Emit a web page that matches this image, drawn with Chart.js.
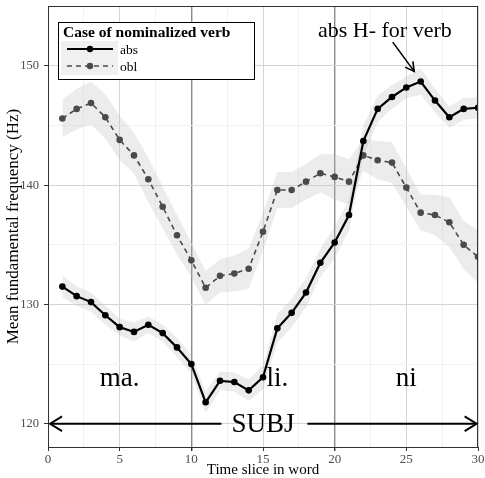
<!DOCTYPE html>
<html>
<head>
<meta charset="utf-8">
<script src="https://cdn.jsdelivr.net/npm/chart.js@4.4.0/dist/chart.umd.min.js"></script>
<style>
  html, body { margin: 0; padding: 0; background: #fff; }
  #wrap { width: 485px; height: 478px; }
</style>
</head>
<body>
<div id="wrap"><canvas id="f0Chart" width="485" height="478"></canvas></div>
<script>
// values
const timeSlices = [1, 2, 3, 4, 5, 6, 7, 8, 9, 10, 11, 12, 13, 14, 15, 16, 17, 18, 19, 20, 21, 22, 23, 24, 25, 26, 27, 28, 29, 30];
const absMean = [131.5, 130.7, 130.2, 129.1, 128.1, 127.7, 128.3, 127.6, 126.4, 125.0, 121.8, 123.6, 123.5, 122.8, 123.9, 128.0, 129.3, 131.0, 133.5, 135.2, 137.5, 143.7, 146.4, 147.4, 148.2, 148.7, 147.1, 145.7, 146.4, 146.5];
const absHigh = [132.4, 131.5, 131.0, 129.9, 128.8, 128.5, 129.0, 128.3, 127.2, 125.8, 122.7, 124.4, 124.3, 123.7, 124.9, 129.2, 130.5, 132.2, 134.7, 136.5, 138.8, 145.0, 147.5, 148.4, 149.1, 149.8, 148.1, 146.6, 147.3, 147.4];
const absLow = [130.6, 129.9, 129.4, 128.3, 127.4, 126.9, 127.6, 126.9, 125.6, 124.2, 120.9, 122.8, 122.7, 121.9, 122.9, 126.8, 128.1, 129.8, 132.3, 133.9, 136.2, 142.4, 145.3, 146.4, 147.3, 147.6, 146.1, 144.8, 145.5, 145.6];
const oblMean = [145.6, 146.4, 146.9, 145.7, 143.8, 142.5, 140.5, 138.2, 135.8, 133.7, 131.4, 132.4, 132.6, 133.0, 136.1, 139.6, 139.6, 140.3, 141.0, 140.7, 140.3, 142.5, 142.1, 141.9, 139.8, 137.7, 137.5, 136.9, 135.0, 134.0];
const oblHigh = [147.2, 148.1, 148.7, 147.6, 145.8, 144.4, 142.3, 139.9, 137.5, 135.2, 132.8, 133.8, 134.1, 134.7, 137.7, 141.1, 141.1, 141.8, 142.6, 142.6, 142.2, 143.9, 143.7, 143.6, 141.4, 139.2, 139.2, 139.0, 137.0, 136.2];
const oblLow = [144.0, 144.7, 145.1, 143.9, 142.1, 141.0, 138.6, 136.4, 134.2, 132.3, 130.0, 131.0, 131.1, 131.3, 134.5, 138.1, 138.1, 138.8, 139.4, 138.8, 138.4, 141.2, 140.5, 140.2, 138.2, 136.2, 135.8, 134.8, 133.0, 131.8];
const seriesNames = ['abs', 'obl'];
const xTicks = [0, 2.5, 5, 7.5, 10, 12.5, 15, 17.5, 20, 22.5, 25, 27.5, 30];
const yTicks = [120, 125, 130, 135, 140, 145, 150];

const serif = "'Liberation Serif', 'DejaVu Serif', serif";

function pts(ys) {
  return timeSlices.map((x, i) => ({ x: x, y: ys[i] }));
}

const ribbon = 'rgba(185,185,185,0.28)';

const datasets = [
  { label: seriesNames[0], data: pts(absMean), borderColor: '#000', backgroundColor: '#000',
    borderWidth: 2.2, pointRadius: 3.3, pointBorderWidth: 0, fill: false, order: 0 },
  { label: seriesNames[1], data: pts(oblMean), borderColor: '#4a4a4a', backgroundColor: '#4a4a4a',
    borderWidth: 1.6, borderDash: [5, 4], pointRadius: 3.3, pointBorderWidth: 0, fill: false, order: 1 },
  { label: 'absHigh', data: pts(absHigh), borderWidth: 0, pointRadius: 0, backgroundColor: ribbon, fill: '+1', order: 5 },
  { label: 'absLow', data: pts(absLow), borderWidth: 0, pointRadius: 0, fill: false, order: 5 },
  { label: 'oblHigh', data: pts(oblHigh), borderWidth: 0, pointRadius: 0, backgroundColor: ribbon, fill: '+1', order: 6 },
  { label: 'oblLow', data: pts(oblLow), borderWidth: 0, pointRadius: 0, fill: false, order: 6 }
];

function arrowHead(ctx, x0, y0, x1, y1, len, ang) {
  const a = Math.atan2(y1 - y0, x1 - x0);
  ctx.beginPath();
  ctx.moveTo(x1 - len * Math.cos(a - ang), y1 - len * Math.sin(a - ang));
  ctx.lineTo(x1, y1);
  ctx.lineTo(x1 - len * Math.cos(a + ang), y1 - len * Math.sin(a + ang));
  ctx.stroke();
}

// panel border, text labels, arrows and the legend box
const extras = {
  id: 'extras',
  afterDatasetsDraw(chart) {
    const ctx = chart.ctx;
    const xs = chart.scales.x, ys = chart.scales.y;
    const a = chart.chartArea;
    ctx.save();
    ctx.strokeStyle = '#333';
    ctx.lineWidth = 1;
    ctx.strokeRect(a.left + 0.5, a.top + 0.5, a.right - a.left - 1, a.bottom - a.top);

    ctx.fillStyle = '#000';
    ctx.textAlign = 'center';
    ctx.textBaseline = 'alphabetic';
    ctx.font = '27px ' + serif;
    ctx.fillText('ma.', xs.getPixelForValue(5), ys.getPixelForValue(123.2));
    ctx.fillText('li.', xs.getPixelForValue(16), ys.getPixelForValue(123.2));
    ctx.fillText('ni', xs.getPixelForValue(25), ys.getPixelForValue(123.2));
    ctx.fillText('SUBJ', xs.getPixelForValue(15), ys.getPixelForValue(119.3));

    // SUBJ arrows
    ctx.strokeStyle = '#000';
    ctx.lineWidth = 2;
    const yA = ys.getPixelForValue(120);
    let x0 = xs.getPixelForValue(12.1), x1 = xs.getPixelForValue(0.15);
    ctx.beginPath(); ctx.moveTo(x0, yA); ctx.lineTo(x1, yA); ctx.stroke();
    arrowHead(ctx, x0, yA, x1, yA, 14, 0.55);
    x0 = xs.getPixelForValue(18.1); x1 = xs.getPixelForValue(29.9);
    ctx.beginPath(); ctx.moveTo(x0, yA); ctx.lineTo(x1, yA); ctx.stroke();
    arrowHead(ctx, x0, yA, x1, yA, 14, 0.55);

    // H- annotation
    ctx.font = '22px ' + serif;
    ctx.fillText('abs H- for verb', xs.getPixelForValue(23.5), ys.getPixelForValue(152.45));
    const ax0 = xs.getPixelForValue(24.05), ay0 = ys.getPixelForValue(152.0);
    const ax1 = xs.getPixelForValue(25.55), ay1 = ys.getPixelForValue(149.55);
    ctx.lineWidth = 1.6;
    ctx.beginPath(); ctx.moveTo(ax0, ay0); ctx.lineTo(ax1, ay1); ctx.stroke();
    arrowHead(ctx, ax0, ay0, ax1, ay1, 10, 0.5);

    // legend
    const lx = 58, ly = 22, lw = 196, lh = 57;
    ctx.fillStyle = '#fff';
    ctx.fillRect(lx, ly, lw, lh);
    ctx.strokeStyle = '#000';
    ctx.lineWidth = 1;
    ctx.strokeRect(lx + 0.5, ly + 0.5, lw, lh);
    ctx.fillStyle = '#000';
    ctx.textAlign = 'left';
    ctx.font = 'bold 15.5px ' + serif;
    ctx.fillText('Case of nominalized verb', 63, 37);
    ctx.fillStyle = '#f0f0f0';
    ctx.fillRect(61, 41, 57, 34);
    const rows = [49, 66];
    [0, 1].forEach(i => {
      const d = datasets[i];
      ctx.strokeStyle = d.borderColor;
      ctx.lineWidth = d.borderWidth;
      ctx.setLineDash(d.borderDash || []);
      ctx.beginPath(); ctx.moveTo(67, rows[i]); ctx.lineTo(113, rows[i]); ctx.stroke();
      ctx.setLineDash([]);
      ctx.fillStyle = d.backgroundColor;
      ctx.beginPath(); ctx.arc(90, rows[i], 3.2, 0, Math.PI * 2); ctx.fill();
      ctx.fillStyle = '#000';
      ctx.font = '13.5px ' + serif;
      ctx.fillText(seriesNames[i], 120, rows[i] + 4.5);
    });
    ctx.restore();
  }
};

const config = {
  type: 'line',
  data: { datasets: datasets },
  options: {
    responsive: false,
    animation: false,
    layout: { padding: { top: 6, right: 7, left: 0, bottom: 0 } },
    plugins: { legend: { display: false }, tooltip: { enabled: false } },
    scales: {
      x: {
        type: 'linear', min: 0, max: 30,
        afterFit: s => { s.height = 31; s.paddingLeft = 0; s.paddingRight = 0; },
        afterBuildTicks: s => { s.ticks = xTicks.map(v => ({ value: v })); },
        border: { display: true, color: '#333', width: 1 },
        grid: {
          color: c => (c.tick.value === 10 || c.tick.value === 20) ? '#8a8a8a' : (c.tick.value % 5 === 0 ? '#d4d4d4' : '#f2f2f2'),
          lineWidth: c => (c.tick.value === 10 || c.tick.value === 20) ? 1.4 : 1,
          tickColor: c => c.tick.value % 5 === 0 ? '#333' : 'rgba(0,0,0,0)',
          tickLength: 4
        },
        ticks: {
          autoSkip: false, maxRotation: 0, padding: 1,
          color: '#4d4d4d', font: { family: serif, size: 13 },
          callback: v => v % 5 === 0 ? String(v) : ''
        },
        title: { display: true, text: 'Time slice in word', color: '#000', font: { family: serif, size: 15, lineHeight: 1 }, padding: { top: 0, bottom: 0 } }
      },
      y: {
        type: 'linear', min: 118.05, max: 155.03,
        afterFit: s => { s.width = 48; s.paddingTop = 0; s.paddingBottom = 0; },
        afterBuildTicks: s => { s.ticks = yTicks.map(v => ({ value: v })); },
        border: { display: true, color: '#333', width: 1 },
        grid: {
          color: c => c.tick.value % 10 === 0 ? '#d4d4d4' : '#f2f2f2',
          tickColor: c => c.tick.value % 10 === 0 ? '#333' : 'rgba(0,0,0,0)',
          tickLength: 4
        },
        ticks: {
          autoSkip: false, padding: 5,
          color: '#4d4d4d', font: { family: serif, size: 12.5 },
          callback: v => v % 10 === 0 ? String(v) : ''
        },
        title: { display: true, text: 'Mean fundamental frequency (Hz)', color: '#000', font: { family: serif, size: 17 }, padding: { top: 3, bottom: 0 } }
      }
    }
  },
  plugins: [extras]
};

const f0Chart = new Chart(document.getElementById('f0Chart'), config);
</script>
</body>
</html>
